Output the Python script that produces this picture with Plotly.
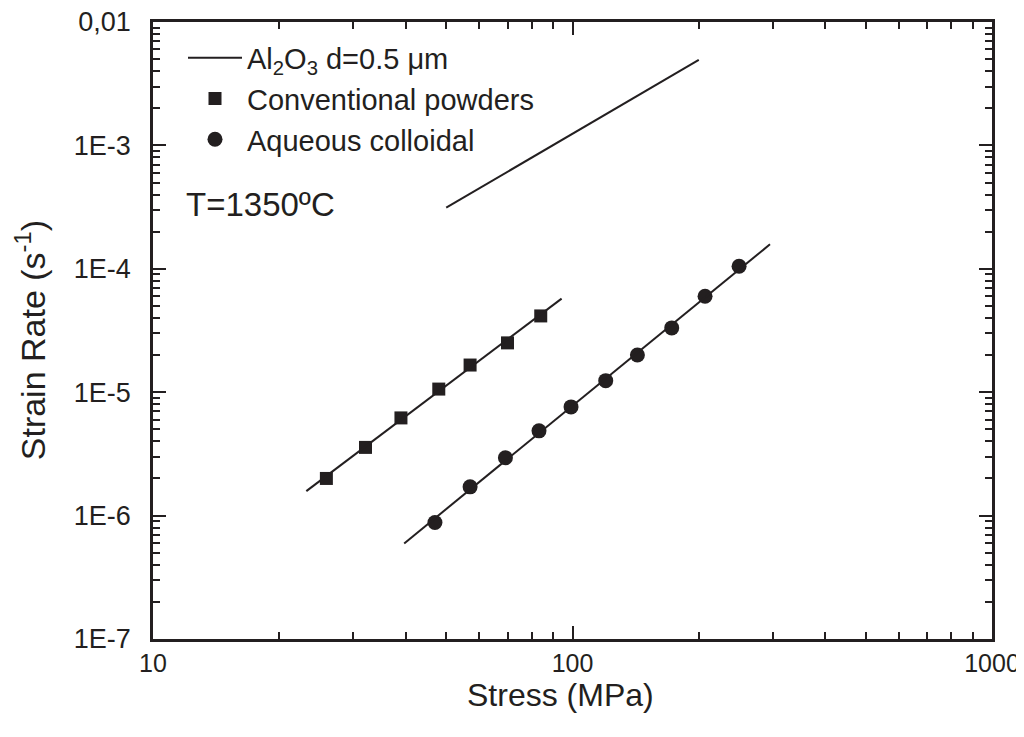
import plotly.graph_objects as go

# ---- data ----
conv_x = [25.9, 32.1, 39.0, 48.0, 57.0, 70.0, 84.0]
conv_y = [2.0e-6, 3.57e-6, 6.19e-6, 1.06e-5, 1.66e-5, 2.51e-5, 4.15e-5]
conv_fit_x = [23.2, 94.2]
conv_fit_y = [1.58e-6, 5.73e-5]

aq_x = [47.0, 57.0, 69.2, 83.2, 99.2, 120.0, 142.8, 172.4, 207.0, 249.5]
aq_y = [8.8e-7, 1.71e-6, 2.94e-6, 4.86e-6, 7.6e-6, 1.24e-5, 2.0e-5, 3.32e-5, 6.0e-5, 1.05e-4]
aq_fit_x = [39.7, 295.7]
aq_fit_y = [5.95e-7, 1.58e-4]

al_x = [50.0, 200.0]
al_y = [3.13e-4, 4.94e-3]

y_tickvals = [1e-7, 1e-6, 1e-5, 1e-4, 1e-3, 1e-2]
y_ticktext = ["1E-7", "1E-6", "1E-5", "1E-4", "1E-3", "0,01"]
x_tickvals = [10, 100, 1000]
x_ticktext = ["10", "100", "1000"]

INK = "#231f20"
FONT = "Liberation Sans, Arial, sans-serif"

fig = go.Figure()

fig.add_trace(go.Scatter(
    x=al_x, y=al_y, mode="lines",
    line=dict(color=INK, width=2),
    name="Al<sub>2</sub>O<sub>3</sub> d=0.5 \u03bcm"))
fig.add_trace(go.Scatter(
    x=conv_x, y=conv_y, mode="markers",
    marker=dict(symbol="square", size=13, color=INK),
    name="Conventional powders"))
fig.add_trace(go.Scatter(
    x=aq_x, y=aq_y, mode="markers",
    marker=dict(symbol="circle", size=15, color=INK),
    name="Aqueous colloidal"))
fig.add_trace(go.Scatter(
    x=conv_fit_x, y=conv_fit_y, mode="lines",
    line=dict(color=INK, width=2), showlegend=False))
fig.add_trace(go.Scatter(
    x=aq_fit_x, y=aq_fit_y, mode="lines",
    line=dict(color=INK, width=2), showlegend=False))

# page body adds an 8 px margin around the figure; the figure is sized so the
# page never scrolls and the plot frame lands at 153..992 x 21.5..639
W, H = 1016, 709
ML, MR, MT, MB = 145, 32, 13.5, 78
PX0, PX1, PY0, PY1 = 153, 992, 21.5, 639


def px(xp):
    return (xp - PX0) / (PX1 - PX0)


def py(yp):
    return 1 - (yp - PY0) / (PY1 - PY0)


axis_common = dict(
    showline=True, linewidth=2.5, linecolor=INK, mirror="allticks",
    ticks="inside", ticklen=13, tickwidth=2, tickcolor=INK,
    showgrid=False, zeroline=False, automargin=False,
    ticklabeloverflow="allow",
)

fig.update_xaxes(
    type="log", range=[1, 3],
    tickmode="array", tickvals=x_tickvals, ticktext=x_ticktext,
    tickfont=dict(family=FONT, size=25, color=INK),
    minor=dict(ticks="inside", ticklen=7, tickwidth=2, tickcolor=INK,
               dtick="D1", showgrid=False),
    **axis_common,
)
fig.update_yaxes(
    type="log", range=[-7, -2],
    tickmode="array", tickvals=y_tickvals, ticktext=y_ticktext,
    tickfont=dict(family=FONT, size=27, color=INK),
    ticklabelstandoff=14,
    minor=dict(ticks="inside", ticklen=7, tickwidth=2, tickcolor=INK,
               dtick="D1", showgrid=False),
    **axis_common,
)

# axis titles
fig.add_annotation(
    text="Stress (MPa)", xref="paper", yref="paper",
    x=px(560), y=py(695), xanchor="center", yanchor="middle",
    showarrow=False, font=dict(family=FONT, size=32, color=INK))
fig.add_annotation(
    text="Strain Rate (s<sup>-1</sup>)", xref="paper", yref="paper",
    x=px(30), y=py(340), xanchor="center", yanchor="middle", textangle=-90,
    showarrow=False, font=dict(family=FONT, size=34, color=INK))

fig.add_annotation(
    text="T=1350\u00baC", xref="paper", yref="paper",
    x=px(184), y=py(204),
    xanchor="left", yanchor="middle", showarrow=False,
    font=dict(family=FONT, size=33, color=INK))

fig.update_layout(
    width=W, height=H,
    margin=dict(l=ML, r=MR, t=MT, b=MB),
    paper_bgcolor="white", plot_bgcolor="white",
    showlegend=True,
    legend=dict(
        x=px(183), y=py(32),
        xanchor="left", yanchor="top",
        bgcolor="rgba(0,0,0,0)", borderwidth=0,
        font=dict(family=FONT, size=29, color=INK),
        itemwidth=54, tracegroupgap=0,
    ),
)

fig.write_html("out.html")
